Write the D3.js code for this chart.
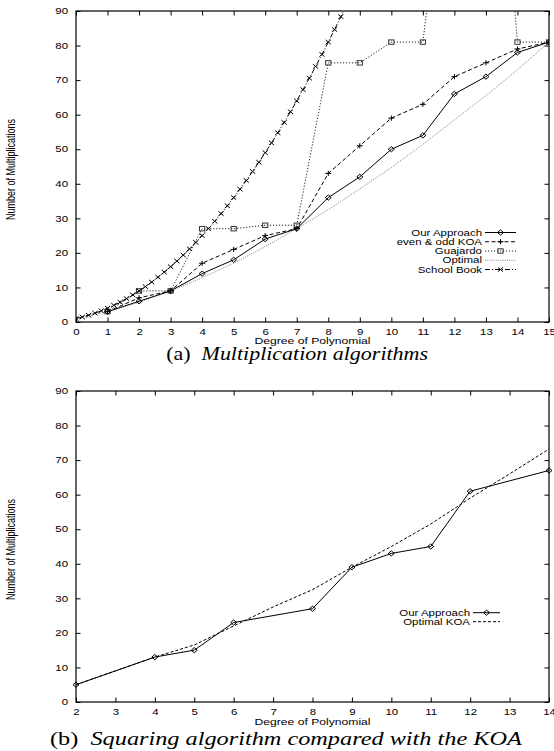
<!DOCTYPE html>
<meta charset="utf-8">
<script src="https://d3js.org/d3.v7.min.js"></script>
<style>
  body { margin: 0; background: #fff; }
  text { font-family: "Liberation Sans", Arial, sans-serif; fill: #000; }
</style>
<div id="chart"></div>
<script>

// ---- data: (a) multiplication algorithms ----
var degrees      = [1, 2, 3, 4, 5, 6, 7, 8, 9, 10, 11, 12, 13, 14, 15];
var ourApproach  = [3, 6, 9, 14, 18, 24, 27, 36, 42, 50, 54, 66, 71, 78, 81];
var evenOddKOA   = [3, 7, 9, 17, 21, 25, 27, 43, 51, 59, 63, 71, 75, 79, 81];
var guajardo     = [3, 9, 9, 27, 27, 28, 28, 75, 75, 81, 81, 155, 190, 81, 81];
var optimalX     = [0, 1, 2, 3, 4, 5, 6, 7, 8, 9, 10, 11, 12, 13, 14, 15];
var optimal      = [1, 3, 5.7, 9, 12.8, 17, 21.8, 27, 32.5, 38.5, 44.7, 51.4, 58.5, 65.5, 73, 81];
var schoolBookX  = [0, 0.2, 0.4, 0.6, 0.8, 1, 1.2, 1.4, 1.6, 1.8, 2, 2.2, 2.4, 2.6, 2.8, 3, 3.2, 3.4, 3.6, 3.8,
                    4, 4.2, 4.4, 4.6, 4.8, 5, 5.2, 5.4, 5.6, 5.8, 6, 6.2, 6.4, 6.6, 6.8, 7, 7.2, 7.4, 7.6, 7.8,
                    8, 8.2, 8.4, 8.6];
var schoolBook   = [1, 1.44, 1.96, 2.56, 3.24, 4, 4.84, 5.76, 6.76, 7.84, 9, 10.24, 11.56, 12.96, 14.44, 16,
                    17.64, 19.36, 21.16, 23.04, 25, 27.04, 29.16, 31.36, 33.64, 36, 38.44, 40.96, 43.56, 46.24,
                    49, 51.84, 54.76, 57.76, 60.84, 64, 67.24, 70.56, 73.96, 77.44, 81, 84.64, 88.36, 92.16];

// ---- data: (b) squaring ----
var sqDegrees     = [2, 4, 5, 6, 8, 9, 10, 11, 12, 14];
var sqOurApproach = [5, 13, 15, 23, 27, 39, 43, 45, 61, 67];
var sqOptX        = [2, 3, 4, 5, 6, 7, 8, 9, 10, 11, 12, 13, 14];
var sqOptimalKOA  = [5, 9, 13, 16.5, 22, 27.5, 32.5, 39, 45, 51.5, 59, 66, 73.2];

var yTicks = [0, 10, 20, 30, 40, 50, 60, 70, 80, 90];

var SX = 1.35;   // the original figure is stretched horizontally
var W = 554, H = 751;

var svg = d3.select("#chart").append("svg")
    .attr("width", W).attr("height", H);

function label(parent, x, y, str, size, anchor, rotate) {
  var g = parent.append("g")
    .attr("transform", "translate(" + x + "," + y + ") scale(" + SX + ",1)" + (rotate ? " rotate(-90)" : ""));
  g.append("text")
    .attr("text-anchor", anchor)
    .attr("font-size", size)
    .text(str);
  return g;
}

function diamond(g, cx, cy, w, h) {
  g.append("path")
    .attr("d", "M" + (cx - w) + "," + cy + "L" + cx + "," + (cy - h) + "L" + (cx + w) + "," + cy + "L" + cx + "," + (cy + h) + "Z")
    .attr("fill", "none").attr("stroke", "#000").attr("stroke-width", 1);
}
function plus(g, cx, cy) {
  g.append("path")
    .attr("d", "M" + (cx - 3) + "," + cy + "H" + (cx + 3) + "M" + cx + "," + (cy - 2.6) + "V" + (cy + 2.6))
    .attr("stroke", "#000").attr("stroke-width", 1);
}
function square(g, cx, cy) {
  g.append("rect")
    .attr("x", cx - 2.6).attr("y", cy - 2.2).attr("width", 5.2).attr("height", 4.4)
    .attr("fill", "none").attr("stroke", "#333").attr("stroke-width", 1);
}
function cross(g, cx, cy) {
  g.append("path")
    .attr("d", "M" + (cx - 2.6) + "," + (cy - 2.2) + "L" + (cx + 2.6) + "," + (cy + 2.2) +
               "M" + (cx - 2.6) + "," + (cy + 2.2) + "L" + (cx + 2.6) + "," + (cy - 2.2))
    .attr("stroke", "#000").attr("stroke-width", 1);
}

function frame(opts) {
  var x = d3.scaleLinear().domain(opts.xDomain).range([opts.left, opts.right]);
  var y = d3.scaleLinear().domain([0, 90]).range([opts.bottom, opts.top]);
  var xt = d3.range(opts.xDomain[0], opts.xDomain[1] + 1);

  var bx = svg.append("g").attr("transform", "translate(0," + opts.bottom + ")")
    .call(d3.axisBottom(x).tickValues(xt).tickSizeInner(-4.5).tickSizeOuter(0).tickPadding(6.5));
  var ly = svg.append("g").attr("transform", "translate(" + opts.left + ",0)")
    .call(d3.axisLeft(y).tickValues(yTicks).tickSizeInner(-4.5).tickSizeOuter(0).tickPadding(8));
  svg.append("g").attr("transform", "translate(0," + opts.top + ")")
    .call(d3.axisTop(x).tickValues(xt).tickSizeInner(-4.5).tickSizeOuter(0).tickFormat(""));
  svg.append("g").attr("transform", "translate(" + opts.right + ",0)")
    .call(d3.axisRight(y).tickValues(yTicks).tickSizeInner(-4.5).tickSizeOuter(0).tickFormat(""));

  svg.selectAll(".domain").remove();
  svg.selectAll(".tick line").attr("stroke", "#000").attr("stroke-width", 1);
  bx.selectAll("text").attr("font-size", 8.5).attr("font-family", "Liberation Sans, Arial, sans-serif")
    .attr("transform", "scale(" + SX + ",1)");
  ly.selectAll("text").attr("font-size", 8.5).attr("font-family", "Liberation Sans, Arial, sans-serif")
    .attr("x", -8 / SX).attr("transform", "scale(" + SX + ",1)");

  svg.append("rect")
    .attr("x", opts.left).attr("y", opts.top)
    .attr("width", opts.right - opts.left).attr("height", opts.bottom - opts.top)
    .attr("fill", "none").attr("stroke", "#000").attr("stroke-width", 1.2);

  label(svg, 15, (opts.top + opts.bottom) / 2 + 3, "Number of Multiplications", 9, "middle", true);
  label(svg, (opts.left + opts.right) / 2, opts.bottom + opts.labelGap, "Degree of Polynomial", 9, "middle");

  svg.append("clipPath").attr("id", opts.id)
    .append("rect")
    .attr("x", opts.left).attr("y", opts.top)
    .attr("width", opts.right - opts.left).attr("height", opts.bottom - opts.top);

  var plot = svg.append("g").attr("clip-path", "url(#" + opts.id + ")");
  return {x: x, y: y, plot: plot};
}

function series(plot, x, y, xs, ys, stroke, width, dash) {
  var line = d3.line().x(function(d) { return x(d[0]); }).y(function(d) { return y(d[1]); });
  plot.append("path")
    .datum(xs.map(function(v, i) { return [v, ys[i]]; }))
    .attr("d", line)
    .attr("fill", "none")
    .attr("stroke", stroke)
    .attr("stroke-width", width)
    .attr("stroke-dasharray", dash);
}

// ================= (a) =================
var A = frame({id: "clipA", xDomain: [0, 15], left: 76, right: 549, top: 11, bottom: 322, labelGap: 21.5});

series(A.plot, A.x, A.y, optimalX, optimal, "#777", 0.9, "1,1.2");
series(A.plot, A.x, A.y, degrees, guajardo, "#222", 1, "1.2,1.8");
series(A.plot, A.x, A.y, degrees, evenOddKOA, "#000", 1, "4,2.5");
series(A.plot, A.x, A.y, degrees, ourApproach, "#000", 1, null);
series(A.plot, A.x, A.y, schoolBookX, schoolBook, "#000", 1, "5,2,1,2");

degrees.forEach(function(d, i) {
  if (guajardo[i] <= 90) square(A.plot, A.x(d), A.y(guajardo[i]));
  plus(A.plot, A.x(d), A.y(evenOddKOA[i]));
  diamond(A.plot, A.x(d), A.y(ourApproach[i]), 3, 2.6);
});
schoolBookX.forEach(function(d, i) {
  if (schoolBook[i] <= 90) cross(A.plot, A.x(d), A.y(schoolBook[i]));
});

// legend (a)
var legA = [
  {name: "Our Approach", dash: null, color: "#000", mark: "diamond"},
  {name: "even & odd KOA", dash: "4,2.5", color: "#000", mark: "plus"},
  {name: "Guajardo", dash: "1.2,1.8", color: "#222", mark: "square"},
  {name: "Optimal", dash: "1,1.2", color: "#777", mark: null},
  {name: "School Book", dash: "5,2,1,2", color: "#000", mark: "cross"}
];
legA.forEach(function(l, i) {
  var cy = 232.5 + i * 9.25;
  label(svg, 482, cy + 3, l.name, 8.5, "end");
  svg.append("line").attr("x1", 485).attr("x2", 516).attr("y1", cy).attr("y2", cy)
    .attr("stroke", l.color).attr("stroke-width", l.mark ? 1 : 0.9).attr("stroke-dasharray", l.dash);
  if (l.mark === "diamond") diamond(svg, 500.5, cy, 3, 2.6);
  if (l.mark === "plus") plus(svg, 500.5, cy);
  if (l.mark === "square") square(svg, 500.5, cy);
  if (l.mark === "cross") cross(svg, 500.5, cy);
});

// ================= (b) =================
var B = frame({id: "clipB", xDomain: [2, 14], left: 76, right: 549, top: 391, bottom: 702, labelGap: 22.5});

series(B.plot, B.x, B.y, sqOptX, sqOptimalKOA, "#000", 1, "3,2");
series(B.plot, B.x, B.y, sqDegrees, sqOurApproach, "#000", 1, null);
sqDegrees.forEach(function(d, i) {
  diamond(svg, B.x(d), B.y(sqOurApproach[i]), 3, 2.6);
});

var legB = [
  {name: "Our Approach", dash: null, mark: true},
  {name: "Optimal KOA", dash: "3,2", mark: false}
];
legB.forEach(function(l, i) {
  var cy = 612.7 + i * 9;
  label(svg, 470, cy + 3, l.name, 8.5, "end");
  svg.append("line").attr("x1", 473).attr("x2", 500).attr("y1", cy).attr("y2", cy)
    .attr("stroke", "#000").attr("stroke-width", 1).attr("stroke-dasharray", l.dash);
  if (l.mark) diamond(svg, 486.5, cy, 3, 2.6);
});

// ================= captions =================
function caption(x, y, tag, body, anchor, width, size) {
  var g = svg.append("g").attr("transform", "translate(" + x + "," + y + ")");
  var t = g.append("text")
    .attr("text-anchor", anchor)
    .attr("font-size", size)
    .style("font-family", "'Liberation Serif', 'DejaVu Serif', serif");
  t.append("tspan").text(tag + "\u00a0\u00a0");
  t.append("tspan").attr("font-style", "italic").text(body);
  var s = width / t.node().getComputedTextLength();
  g.attr("transform", "translate(" + x + "," + y + ") scale(" + s + ",1)");
  return g;
}
caption(50, 745, "(b)", "Squaring algorithm compared with the KOA", "start", 472, 19);
caption(428, 359.5, "(a)", "Multiplication algorithms", "end", 262, 18);

</script>
